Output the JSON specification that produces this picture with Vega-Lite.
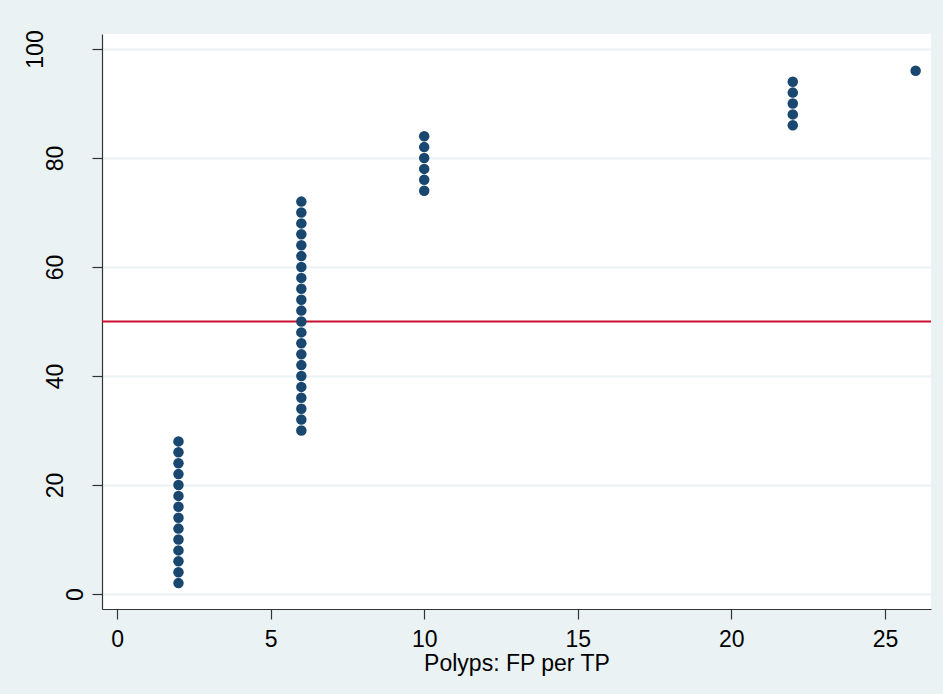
{
  "$schema": "https://vega.github.io/schema/vega-lite/v6.json",
  "width": 829,
  "height": 575,
  "autosize": {"type": "none"},
  "padding": {"left": 102, "top": 34, "right": 12, "bottom": 85},
  "background": "#eaf2f3",
  "config": {
    "view": {"stroke": null, "fill": "white"},
    "font": "Liberation Sans",
    "axis": {
      "labelFont": "Liberation Sans",
      "titleFont": "Liberation Sans",
      "labelColor": "#000000",
      "titleColor": "#000000",
      "labelFontSize": 23,
      "titleFontSize": 23,
      "titleFontWeight": "normal",
      "domainColor": "#333333",
      "domainWidth": 1.2,
      "tickColor": "#333333",
      "tickWidth": 1.2,
      "tickSize": 10
    }
  },
  "datasets": {
    "pts": [
      {"fp": 2, "pct": 2}, {"fp": 2, "pct": 4}, {"fp": 2, "pct": 6}, {"fp": 2, "pct": 8},
      {"fp": 2, "pct": 10}, {"fp": 2, "pct": 12}, {"fp": 2, "pct": 14}, {"fp": 2, "pct": 16},
      {"fp": 2, "pct": 18}, {"fp": 2, "pct": 20}, {"fp": 2, "pct": 22}, {"fp": 2, "pct": 24},
      {"fp": 2, "pct": 26}, {"fp": 2, "pct": 28},
      {"fp": 6, "pct": 30}, {"fp": 6, "pct": 32}, {"fp": 6, "pct": 34}, {"fp": 6, "pct": 36},
      {"fp": 6, "pct": 38}, {"fp": 6, "pct": 40}, {"fp": 6, "pct": 42}, {"fp": 6, "pct": 44},
      {"fp": 6, "pct": 46}, {"fp": 6, "pct": 48}, {"fp": 6, "pct": 50}, {"fp": 6, "pct": 52},
      {"fp": 6, "pct": 54}, {"fp": 6, "pct": 56}, {"fp": 6, "pct": 58}, {"fp": 6, "pct": 60},
      {"fp": 6, "pct": 62}, {"fp": 6, "pct": 64}, {"fp": 6, "pct": 66}, {"fp": 6, "pct": 68},
      {"fp": 6, "pct": 70}, {"fp": 6, "pct": 72},
      {"fp": 10, "pct": 74}, {"fp": 10, "pct": 76}, {"fp": 10, "pct": 78}, {"fp": 10, "pct": 80},
      {"fp": 10, "pct": 82}, {"fp": 10, "pct": 84},
      {"fp": 22, "pct": 86}, {"fp": 22, "pct": 88}, {"fp": 22, "pct": 90}, {"fp": 22, "pct": 92},
      {"fp": 22, "pct": 94},
      {"fp": 26, "pct": 96}
    ],
    "ref": [{"level": 50}]
  },
  "layer": [
    {
      "data": {"name": "ref"},
      "mark": {"type": "rule", "color": "#c8102e", "strokeWidth": 2},
      "encoding": {
        "y": {"field": "level", "type": "quantitative", "scale": {"domain": [-2.75, 102.75], "nice": false, "zero": false}}
      }
    },
    {
      "data": {"name": "pts"},
      "mark": {"type": "circle", "color": "#1a476f", "opacity": 1, "size": 110},
      "encoding": {
        "x": {
          "field": "fp", "type": "quantitative",
          "scale": {"domain": [-0.49, 26.5], "nice": false, "zero": false},
          "axis": {
            "values": [0, 5, 10, 15, 20, 25],
            "grid": false,
            "title": "Polyps: FP per TP",
            "labelPadding": 9,
            "titlePadding": 1,
            "labelFlush": false,
            "labelOverlap": false
          }
        },
        "y": {
          "field": "pct", "type": "quantitative",
          "scale": {"domain": [-2.75, 102.75], "nice": false, "zero": false},
          "axis": {
            "values": [0, 20, 40, 60, 80, 100],
            "title": null,
            "grid": true,
            "gridColor": "#eaf2f3",
            "gridWidth": 2,
            "labelAngle": -90,
            "labelAlign": "center",
            "labelBaseline": "alphabetic",
            "labelPadding": {
              "condition": [
                {"test": "datum.value >= 100", "value": 50},
                {"test": "datum.value >= 10", "value": 30}
              ],
              "value": 10
            },
            "labelFlush": false,
            "labelOverlap": false
          }
        }
      }
    }
  ]
}
